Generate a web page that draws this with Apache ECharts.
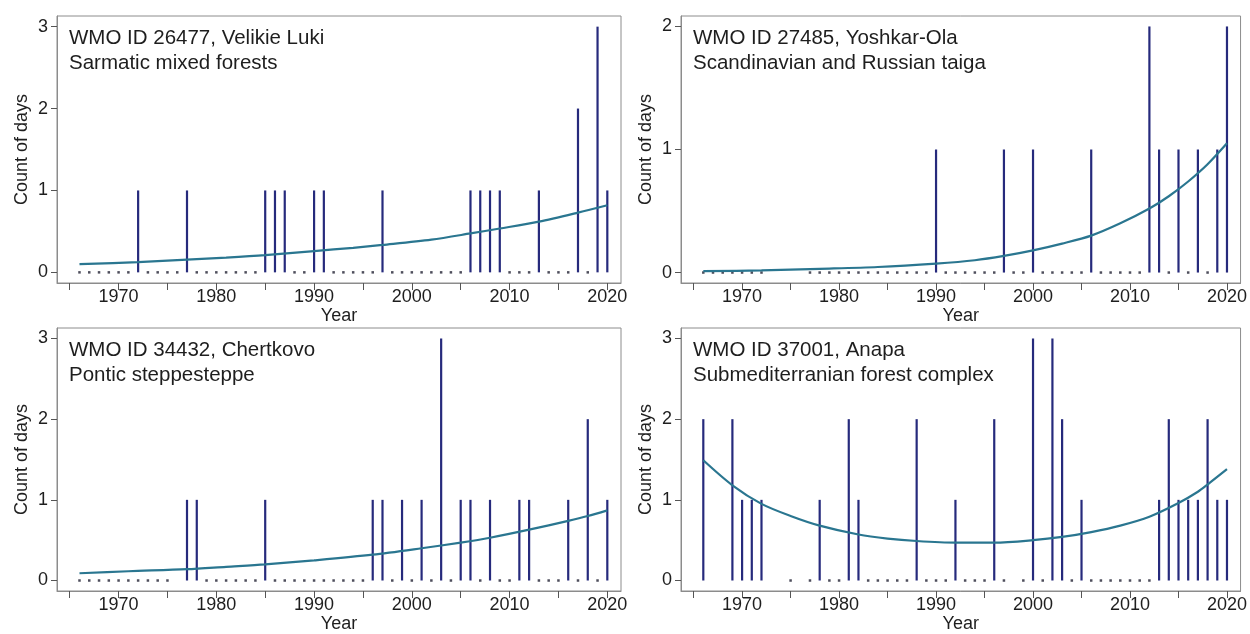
<!DOCTYPE html>
<html>
<head>
<meta charset="utf-8">
<script src="https://cdn.jsdelivr.net/npm/echarts@6/dist/echarts.min.js"></script>
<style>
html,body{margin:0;padding:0;background:#fff;}
#chart{width:1250px;height:634px;}
</style>
</head>
<body>
<div id="chart"></div>
<script>
// ---------- DATA ----------
const xTickValues = [1965, 1970, 1975, 1980, 1985, 1990, 1995, 2000, 2005, 2010, 2015, 2020];
const xLabelValues = [1970, 1980, 1990, 2000, 2010, 2020];

// Panel 1: WMO ID 26477, Velikie Luki
const title1 = "WMO ID 26477, Velikie Luki\nSarmatic mixed forests";
const barYears1 = [1972, 1977, 1985, 1986, 1987, 1990, 1991, 1997, 2006, 2007, 2008, 2009, 2013, 2017, 2019, 2020];
const barCounts1 = [1, 1, 1, 1, 1, 1, 1, 1, 1, 1, 1, 1, 1, 2, 3, 1];
const zeroYears1 = [1966, 1967, 1968, 1969, 1970, 1971, 1973, 1974, 1975, 1976, 1978, 1979, 1980, 1981, 1982, 1983, 1984,
  1988, 1989, 1992, 1993, 1994, 1995, 1996, 1998, 1999, 2000, 2001, 2002, 2003, 2004, 2005, 2010, 2011, 2012, 2014, 2015, 2016, 2018];
const fitYears1 = [1966, 1972, 1977, 1981, 1985, 1990, 1994, 1997, 2002, 2006, 2009, 2013, 2017, 2020];
const fitValues1 = [0.10, 0.125, 0.155, 0.18, 0.21, 0.26, 0.30, 0.335, 0.40, 0.475, 0.535, 0.62, 0.73, 0.82];
const yTicks1 = [0, 1, 2, 3];

// Panel 2: WMO ID 27485, Yoshkar-Ola
const title2 = "WMO ID 27485, Yoshkar-Ola\nScandinavian and Russian taiga";
const barYears2 = [1990, 1997, 2000, 2006, 2012, 2013, 2015, 2017, 2019, 2020];
const barCounts2 = [1, 1, 1, 1, 2, 1, 1, 1, 1, 2];
const zeroYears2 = [1966, 1967, 1968, 1969, 1970, 1971, 1972, 1977, 1978, 1979, 1980, 1981, 1982, 1983, 1984, 1985, 1986, 1987, 1988, 1989,
  1991, 1992, 1993, 1994, 1995, 1996, 1998, 1999, 2001, 2002, 2003, 2004, 2005, 2007, 2008, 2009, 2010, 2011, 2014, 2016, 2018];
const fitYears2 = [1966, 1972, 1978, 1984, 1990, 1994, 1997, 2000, 2003, 2006, 2009, 2012, 2014, 2016, 2018, 2020];
const fitValues2 = [0.012, 0.017, 0.03, 0.045, 0.073, 0.10, 0.135, 0.18, 0.235, 0.30, 0.40, 0.52, 0.62, 0.74, 0.88, 1.05];
const yTicks2 = [0, 1, 2];

// Panel 3: WMO ID 34432, Chertkovo
const title3 = "WMO ID 34432, Chertkovo\nPontic steppesteppe";
const barYears3 = [1977, 1978, 1985, 1996, 1997, 1999, 2001, 2003, 2005, 2006, 2008, 2011, 2012, 2016, 2018, 2020];
const barCounts3 = [1, 1, 1, 1, 1, 1, 1, 3, 1, 1, 1, 1, 1, 1, 2, 1];
const zeroYears3 = [1966, 1967, 1968, 1969, 1970, 1971, 1972, 1973, 1974, 1975, 1979, 1980, 1981, 1982, 1983, 1984,
  1986, 1987, 1988, 1989, 1990, 1991, 1992, 1993, 1994, 1995, 1998, 2000, 2002, 2004, 2007, 2009, 2010, 2013, 2014, 2015, 2017, 2019];
const fitYears3 = [1966, 1971, 1977, 1981, 1985, 1990, 1996, 2001, 2005, 2008, 2012, 2016, 2018, 2020];
const fitValues3 = [0.09, 0.115, 0.14, 0.17, 0.20, 0.25, 0.32, 0.40, 0.47, 0.53, 0.63, 0.74, 0.80, 0.87];
const yTicks3 = [0, 1, 2, 3];

// Panel 4: WMO ID 37001, Anapa
const title4 = "WMO ID 37001, Anapa\nSubmediterranian forest complex";
const barYears4 = [1966, 1969, 1970, 1971, 1972, 1978, 1981, 1982, 1988, 1992, 1996, 2000, 2002, 2003, 2005,
  2013, 2014, 2015, 2016, 2017, 2018, 2019, 2020];
const barCounts4 = [2, 2, 1, 1, 1, 1, 2, 1, 2, 1, 2, 3, 3, 2, 1, 1, 2, 1, 1, 1, 2, 1, 1];
const zeroYears4 = [1975, 1977, 1979, 1980, 1983, 1984, 1985, 1986, 1987, 1989, 1990, 1991, 1993, 1994, 1995, 1997, 1999,
  2001, 2004, 2006, 2007, 2008, 2009, 2010, 2011, 2012];
const fitYears4 = [1966, 1969, 1972, 1975, 1978, 1982, 1985, 1988, 1992, 1996, 2000, 2003, 2006, 2009, 2012, 2015, 2017, 2018, 2020];
const fitValues4 = [1.49, 1.18, 0.95, 0.80, 0.68, 0.57, 0.52, 0.49, 0.47, 0.47, 0.50, 0.54, 0.60, 0.68, 0.79, 0.96, 1.10, 1.19, 1.38];
const yTicks4 = [0, 1, 2, 3];

// ---------- BUILD ----------
const FONT = "Liberation Sans, Arial, sans-serif";
const TXT = "#1e1e1e";
const BORDER = "#8c8c8c";
const BAR = "#262a7c";
const CURVE = "#2a7690";
const DOT = "#222233";

const panels = [
  {title: title1, by: barYears1, bc: barCounts1, zy: zeroYears1, fy: fitYears1, fv: fitValues1, yt: yTicks1,
   grid: {left: 57, top: 16, width: 564, height: 267}, ymin: -0.13, ymax: 3.13, tl: 69, tt: 26},
  {title: title2, by: barYears2, bc: barCounts2, zy: zeroYears2, fy: fitYears2, fv: fitValues2, yt: yTicks2,
   grid: {left: 681, top: 16, width: 571, height: 267}, ymin: -0.085, ymax: 2.085, tl: 693, tt: 26},
  {title: title3, by: barYears3, bc: barCounts3, zy: zeroYears3, fy: fitYears3, fv: fitValues3, yt: yTicks3,
   grid: {left: 57, top: 328, width: 564, height: 266}, ymin: -0.13, ymax: 3.13, tl: 69, tt: 338},
  {title: title4, by: barYears4, bc: barCounts4, zy: zeroYears4, fy: fitYears4, fv: fitValues4, yt: yTicks4,
   grid: {left: 681, top: 328, width: 571, height: 266}, ymin: -0.13, ymax: 3.13, tl: 693, tt: 338}
];

const option = {
  backgroundColor: "#fff",
  animation: false,
  title: [], grid: [], xAxis: [], yAxis: [], series: []
};

panels.forEach((p, i) => {
  option.title.push({
    text: p.title, left: p.tl, top: p.tt, padding: 0,
    textStyle: {fontFamily: FONT, fontSize: 20.5, fontWeight: "normal", color: TXT, lineHeight: 25}
  });
  option.grid.push(Object.assign({show: true, borderColor: BORDER, borderWidth: 1, backgroundColor: "#fff", containLabel: false}, p.grid));
  option.xAxis.push({
    type: "value", gridIndex: i, min: 1963.7, max: 2021.4,
    name: "Year", nameLocation: "middle", nameGap: 24,
    nameTextStyle: {fontFamily: FONT, fontSize: 18, color: TXT},
    axisLine: {show: true, onZero: false, lineStyle: {color: BORDER}},
    axisTick: {show: true, length: 7, customValues: xTickValues, lineStyle: {color: "#555"}},
    axisLabel: {customValues: xLabelValues, margin: 5, fontFamily: FONT, fontSize: 18, color: TXT,
      formatter: v => String(Math.round(v))},
    splitLine: {show: false}
  });
  option.yAxis.push({
    type: "value", gridIndex: i, min: p.ymin, max: p.ymax,
    name: "Count of days", nameLocation: "middle", nameGap: 26, nameRotate: 90,
    nameTextStyle: {fontFamily: FONT, fontSize: 18, color: TXT},
    axisLine: {show: true, onZero: false, lineStyle: {color: BORDER}},
    axisTick: {show: true, length: 6, customValues: p.yt, lineStyle: {color: "#555"}},
    axisLabel: {customValues: p.yt, margin: 9, fontFamily: FONT, fontSize: 18, color: TXT,
      formatter: v => String(Math.round(v))},
    splitLine: {show: false}
  });
  option.series.push({
    type: "scatter", xAxisIndex: i, yAxisIndex: i, symbol: "rect", symbolSize: 2.5,
    itemStyle: {color: DOT}, silent: true,
    data: p.zy.map(y => [y, 0])
  });
  option.series.push({
    type: "bar", xAxisIndex: i, yAxisIndex: i, barWidth: 2.2,
    itemStyle: {color: BAR}, silent: true,
    data: p.by.map((y, k) => [y, p.bc[k]])
  });
  option.series.push({
    type: "line", xAxisIndex: i, yAxisIndex: i, smooth: 0.3, showSymbol: false, symbol: "none",
    lineStyle: {color: CURVE, width: 2.2}, silent: true, z: 5,
    data: p.fy.map((y, k) => [y, p.fv[k]])
  });
});

const chart = echarts.init(document.getElementById("chart"), null, {renderer: "canvas"});
chart.setOption(option);
</script>
</body>
</html>
